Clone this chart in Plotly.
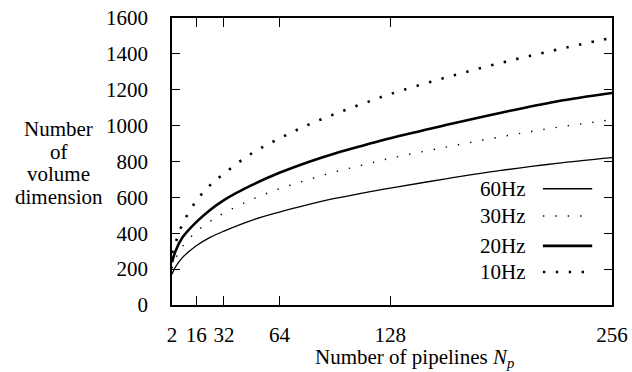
import plotly.graph_objects as go

# Number of pipelines N_p
pipelines = [2, 4, 8, 16, 24, 32, 48, 64, 80, 96, 112, 128, 160, 192, 224, 256]
# Number of volume dimension per frame rate
hz60 = [172, 212, 264, 330, 377, 412, 472, 518, 558, 594, 624, 652, 703, 750, 790, 822]
hz30 = [205, 258, 325, 408, 466, 513, 588, 648, 697, 742, 780, 818, 880, 938, 990, 1033]
hz20 = [238, 300, 376, 462, 530, 585, 668, 737, 795, 845, 888, 930, 1003, 1072, 1135, 1182]
hz10 = [290, 345, 450, 580, 668, 733, 845, 928, 1002, 1065, 1122, 1176, 1268, 1350, 1423, 1490]

x_ticks = [2, 16, 32, 64, 128, 256]
y_ticks = [0, 200, 400, 600, 800, 1000, 1200, 1400, 1600]
labels = ["60Hz", "30Hz", "20Hz", "10Hz"]
y_title_lines = ["Number", "of", "volume", "dimension"]

styles = {
    "60Hz": dict(color="black", width=1.3, dash="solid"),
    "30Hz": dict(color="black", width=1.4, dash="1.4px,11px"),
    "20Hz": dict(color="black", width=2.6, dash="solid"),
    "10Hz": dict(color="black", width=2.6, dash="2.4px,10.5px"),
}
series = {"60Hz": hz60, "30Hz": hz30, "20Hz": hz20, "10Hz": hz10}

FONT = "Liberation Serif"
FS_TICK = 21
FS_TEXT = 21

fig = go.Figure()
for name in labels:
    fig.add_trace(go.Scatter(x=pipelines, y=series[name], mode="lines", name=name,
                             line=dict(shape="spline", **styles[name]), showlegend=False))

# manual legend (text left of sample line)
rows = [0.405, 0.31, 0.206, 0.115]
for name, yp in zip(labels, rows):
    fig.add_annotation(x=0.81, y=yp, xref="paper", yref="paper", text=name, showarrow=False,
                       xanchor="right", yanchor="middle", font=dict(family=FONT, size=FS_TEXT, color="black"))
    st = styles[name]
    fig.add_shape(type="line", xref="paper", yref="paper", x0=0.843, x1=0.955, y0=yp, y1=yp,
                  line=dict(color="black", width=st["width"], dash=st["dash"]))

# y-axis title, one line per annotation for tight line spacing
for txt, yp in zip(y_title_lines, [0.612, 0.532, 0.455, 0.375]):
    fig.add_annotation(x=-0.257, y=yp, xref="paper", yref="paper", text=txt, showarrow=False,
                       xanchor="center", yanchor="middle",
                       font=dict(family=FONT, size=FS_TEXT, color="black"))

fig.add_annotation(x=0.55, y=-0.134, xref="paper", yref="paper",
                   text="Number of pipelines <i>N<sub>p</sub></i>", showarrow=False,
                   xanchor="center", yanchor="top",
                   font=dict(family=FONT, size=FS_TEXT, color="black"))

axis_common = dict(showgrid=False, zeroline=False, showline=True, linecolor="black", linewidth=1.5,
                   mirror="ticks", ticks="inside", tickcolor="black", tickwidth=1.3, automargin=False,
                   tickfont=dict(family=FONT, size=FS_TICK, color="black"))

fig.update_xaxes(range=[2, 256], tickvals=x_ticks, ticktext=[str(v) for v in x_ticks], ticklen=9,
                 ticklabelstandoff=10, **axis_common)
fig.update_yaxes(range=[0, 1600], tickvals=y_ticks, ticklen=8, ticklabelstandoff=18, **axis_common)

fig.update_layout(width=632, height=372, margin=dict(l=172, r=20, t=18, b=67),
                  plot_bgcolor="white", paper_bgcolor="white",
                  font=dict(family=FONT, size=FS_TEXT, color="black"))

fig.write_html("out.html", config={"displayModeBar": False},
               post_script="document.body.style.margin='0';document.body.style.overflow='hidden';")
